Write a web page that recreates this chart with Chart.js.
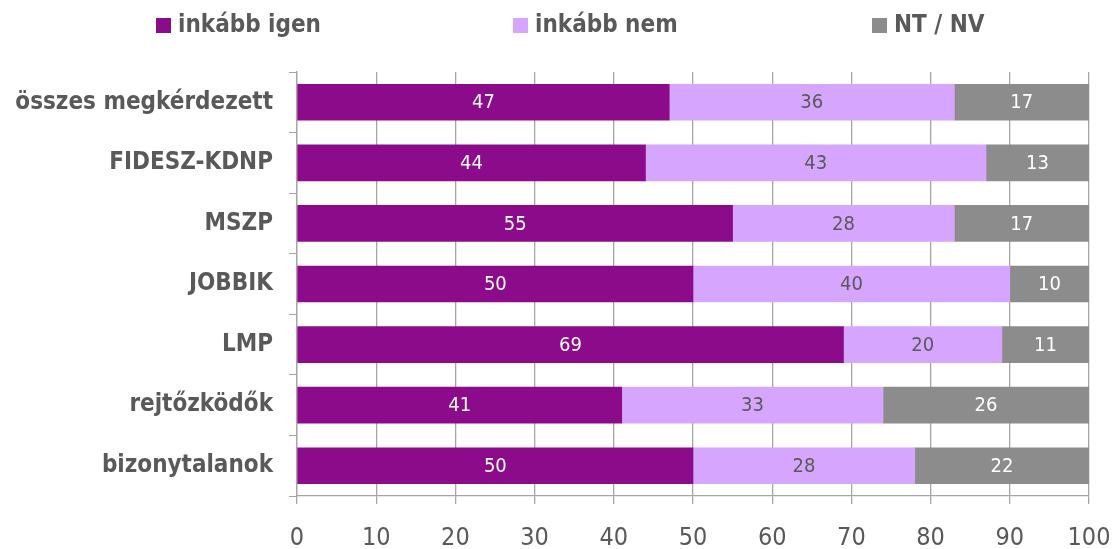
<!DOCTYPE html>
<html>
<head>
<meta charset="utf-8">
<script src="https://cdn.jsdelivr.net/npm/chart.js@4/dist/chart.umd.min.js"></script>
<style>
  html, body { margin: 0; padding: 0; background: #fff; }
  #wrap { width: 1115px; height: 549px; }
</style>
</head>
<body>
<div id="wrap"><canvas id="chart" width="1115" height="549"></canvas></div>
<script>
const categories = ['összes megkérdezett', 'FIDESZ-KDNP', 'MSZP', 'JOBBIK', 'LMP', 'rejtőzködők', 'bizonytalanok'];
const inkabbIgen = [47, 44, 55, 50, 69, 41, 50];
const inkabbNem = [36, 43, 28, 40, 20, 33, 28];
const ntNv = [17, 13, 17, 10, 11, 26, 22];
const xTicks = [0, 10, 20, 30, 40, 50, 60, 70, 80, 90, 100];

const textGrey = '#595959';
const condensed = '"DejaVu Sans Condensed", "Liberation Sans Narrow", sans-serif';

// value labels in the middle of every segment
const barLabels = {
  id: 'barLabels',
  afterDatasetsDraw(chart) {
    const ctx = chart.ctx;
    ctx.save();
    ctx.font = '20px ' + condensed;
    ctx.textAlign = 'center';
    ctx.textBaseline = 'middle';
    chart.data.datasets.forEach((ds, i) => {
      const meta = chart.getDatasetMeta(i);
      meta.data.forEach((bar, j) => {
        const x = (bar.x + bar.base) / 2;
        ctx.fillStyle = ds.labelColor;
        ctx.fillText(ds.data[j], x, bar.y + 1);
      });
    });
    ctx.restore();
  }
};

// legend row at the top, items spread like in the original
const legendX = [156, 513, 872];
const topLegend = {
  id: 'topLegend',
  afterDraw(chart) {
    const ctx = chart.ctx;
    ctx.save();
    ctx.font = 'bold 24px ' + condensed;
    ctx.textBaseline = 'middle';
    chart.data.datasets.forEach((ds, i) => {
      ctx.fillStyle = ds.backgroundColor;
      ctx.fillRect(legendX[i], 18, 15, 15);
      ctx.fillStyle = textGrey;
      ctx.fillText(ds.label, legendX[i] + 22, 26);
    });
    ctx.restore();
  }
};

new Chart(document.getElementById('chart'), {
  type: 'bar',
  data: {
    labels: categories,
    datasets: [
      { label: 'inkább igen', data: inkabbIgen, backgroundColor: '#8B0B8B', labelColor: '#ffffff' },
      { label: 'inkább nem', data: inkabbNem, backgroundColor: '#D6A5FD', labelColor: textGrey },
      { label: 'NT / NV', data: ntNv, backgroundColor: '#8C8C8C', labelColor: '#ffffff' }
    ]
  },
  options: {
    indexAxis: 'y',
    responsive: false,
    animation: false,
    barThickness: 36,
    layout: { padding: { top: 72, right: 26, left: 0, bottom: 0 } },
    plugins: {
      tooltip: { enabled: false },
      legend: { display: false }
    },
    scales: {
      x: {
        stacked: true,
        min: 0,
        max: 100,
        afterBuildTicks(scale) { scale.ticks = xTicks.map(v => ({ value: v })); },
        afterFit(scale) { scale.height = 53; scale.paddingRight = 0; scale.paddingLeft = 0; },
        grid: { color: '#A6A6A6', lineWidth: 1.3, tickLength: 8, drawTicks: true },
        border: { color: '#A6A6A6', width: 1.3 },
        ticks: { color: textGrey, padding: 19, font: { family: condensed, size: 25 } }
      },
      y: {
        stacked: true,
        afterFit(scale) { scale.width = 297; },
        grid: { offset: true, drawOnChartArea: false, color: '#A6A6A6', tickLength: 8 },
        border: { color: '#A6A6A6', width: 1.3 },
        ticks: { color: textGrey, padding: 16, font: { family: condensed, size: 24, weight: 'bold' } }
      }
    }
  },
  plugins: [barLabels, topLegend]
});
</script>
</body>
</html>
